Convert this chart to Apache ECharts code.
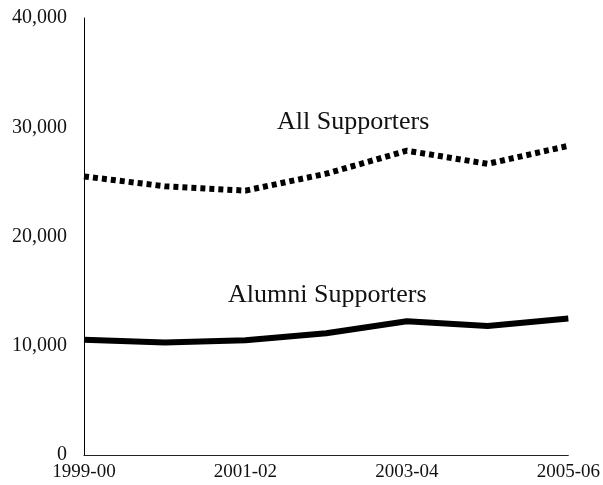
<!DOCTYPE html>
<html>
<head>
<meta charset="utf-8">
<script src="https://cdn.jsdelivr.net/npm/echarts@6/dist/echarts.min.js"></script>
<style>
  html, body { margin: 0; padding: 0; background: #fff; }
  #main { width: 603px; height: 485px; }
</style>
</head>
<body>
<div id="main"></div>
<script>
// 数据
var years = ['1999-00', '2000-01', '2001-02', '2002-03', '2003-04', '2004-05', '2005-06'];
var allSupporters = [25500, 24600, 24200, 25750, 27850, 26650, 28300];
var alumniSupporters = [10550, 10300, 10500, 11150, 12250, 11800, 12500];

var myChart = echarts.init(document.getElementById('main'));
var serif = '"Liberation Serif", "DejaVu Serif", serif';

var option = {
  animation: false,
  grid: { left: 84, right: 30, top: 18, bottom: 30 },
  xAxis: {
    type: 'category',
    data: years,
    boundaryGap: false,
    axisLine: { lineStyle: { color: '#222', width: 1 } },
    axisTick: { show: false },
    axisLabel: { interval: 1, color: '#111', fontFamily: serif, fontSize: 19, margin: 8 }
  },
  yAxis: {
    type: 'value',
    min: 0,
    max: 40000,
    interval: 10000,
    splitLine: { show: false },
    axisLine: { show: true, lineStyle: { color: '#000', width: 1 } },
    axisTick: { show: false },
    axisLabel: {
      color: '#111', fontFamily: serif, fontSize: 20, margin: 17,
      formatter: function (v) { return v.toLocaleString('en-US'); }
    }
  },
  // 系列名称标注
  graphic: [
    { type: 'text', left: 277, top: 109, style: { text: 'All Supporters', font: '26px ' + serif, fill: '#111' } },
    { type: 'text', left: 228, top: 282, style: { text: 'Alumni Supporters', font: '26px ' + serif, fill: '#111' } }
  ],
  series: [
    {
      name: 'All Supporters',
      type: 'line',
      data: allSupporters,
      symbol: 'none',
      lineStyle: { color: '#000', width: 6, type: [5, 4], cap: 'butt' }
    },
    {
      name: 'Alumni Supporters',
      type: 'line',
      data: alumniSupporters,
      symbol: 'none',
      lineStyle: { color: '#000', width: 6 }
    }
  ]
};
myChart.setOption(option);
</script>
</body>
</html>
